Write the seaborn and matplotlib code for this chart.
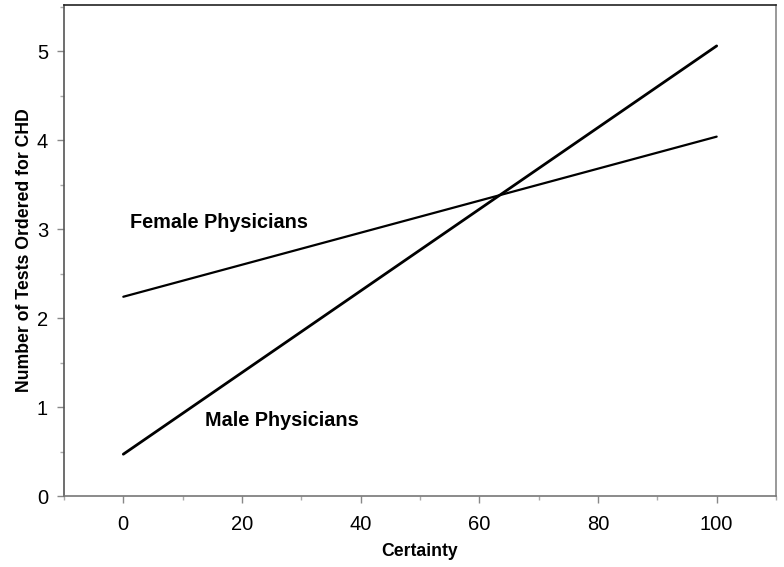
import pandas as pd
import matplotlib
matplotlib.use("Agg")
import matplotlib.pyplot as plt
import seaborn as sns
from matplotlib.ticker import MultipleLocator

# data
certainty = [0, 100]
female_tests = [2.24, 4.04]
male_tests = [0.47, 5.06]
groups = ["Female Physicians", "Male Physicians"]
label_pos = {"Female Physicians": (1.2, 3.07), "Male Physicians": (13.8, 0.85)}

df = pd.DataFrame({
    "Certainty": certainty * 2,
    "Tests": female_tests + male_tests,
    "Group": [groups[0]] * 2 + [groups[1]] * 2,
})

sns.set_style("white")
plt.rcParams["font.family"] = ["Liberation Sans", "DejaVu Sans"]
plt.rcParams["text.color"] = "black"
plt.rcParams["axes.labelcolor"] = "black"

fig = plt.figure(figsize=(7.84, 5.67), dpi=100)
ax = fig.add_axes([0.0816, 0.1252, 0.9082, 0.866])

sns.lineplot(data=df, x="Certainty", y="Tests", units="Group", estimator=None,
             color="black", linewidth=2, ax=ax, legend=False)
ax.lines[0].set_linewidth(1.6)

for g in groups:
    ax.text(*label_pos[g], g, fontsize=14.3, fontweight="bold", va="center", ha="left",
            color="black")

ax.set_xlim(-10, 110)
ax.set_ylim(0, 5.52)
ax.xaxis.set_minor_locator(MultipleLocator(10))
ax.yaxis.set_minor_locator(MultipleLocator(0.5))
ax.set_xticks([0, 20, 40, 60, 80, 100])
ax.set_yticks([0, 1, 2, 3, 4, 5])

ax.tick_params(which="major", direction="out", length=5, width=1, color="#888888",
               labelsize=14.5, labelcolor="black", bottom=True, left=True)
ax.tick_params(which="minor", direction="out", length=3, width=1, color="#aaaaaa",
               bottom=True, left=True)
ax.tick_params(axis="x", pad=9)
ax.tick_params(axis="y", pad=6.5)

for side, c in [("top", "#222222"), ("left", "#555555"), ("right", "#888888"), ("bottom", "#777777")]:
    ax.spines[side].set_color(c)
    ax.spines[side].set_linewidth(1.2)
    ax.spines[side].set_visible(True)

ax.set_xlabel("Certainty", fontsize=12.7, fontweight="bold", labelpad=6)
ax.set_ylabel("Number of Tests Ordered for CHD", fontsize=12.7, fontweight="bold", labelpad=3)

fig.savefig("out.png", dpi=100)
